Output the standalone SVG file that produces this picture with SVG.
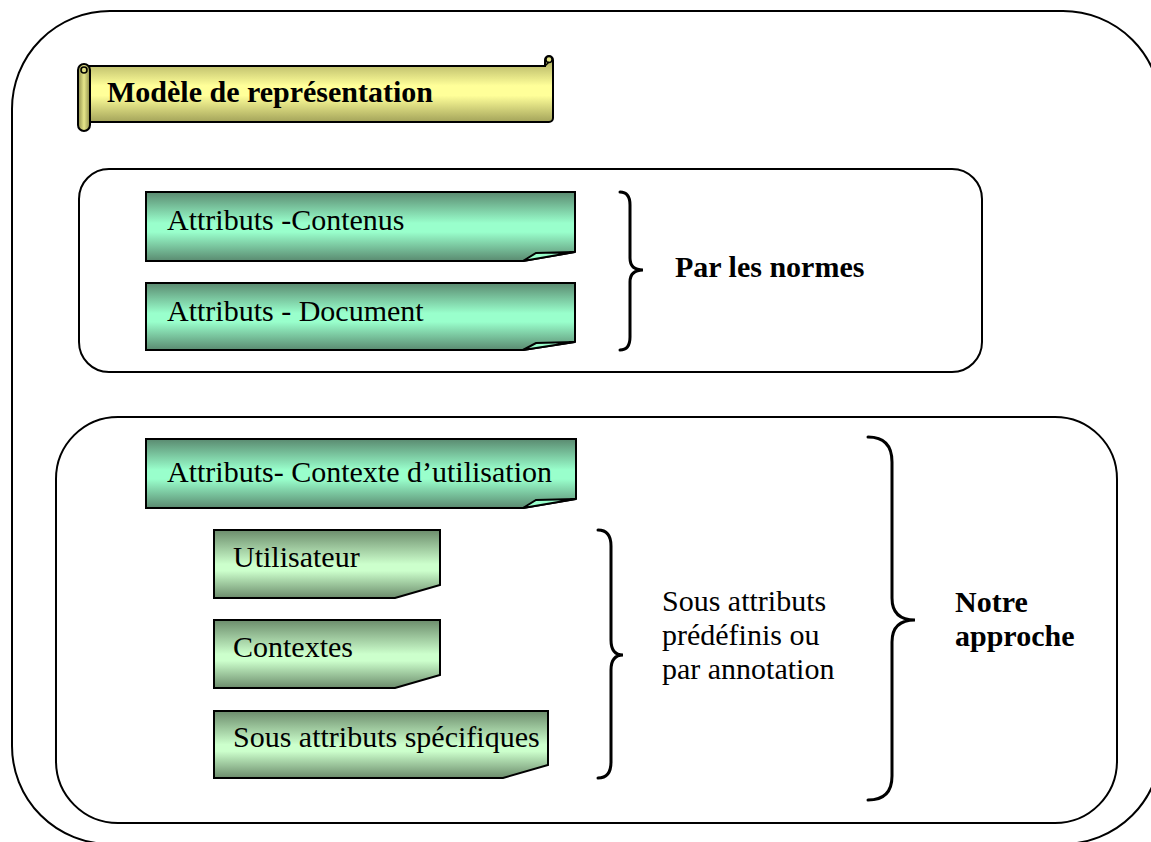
<svg xmlns="http://www.w3.org/2000/svg" width="1151" height="842" viewBox="0 0 1151 842">
<defs>
<linearGradient id="gMint" x1="0" y1="0" x2="0" y2="1">
<stop offset="0" stop-color="#5a8a70"/>
<stop offset="0.45" stop-color="#99ffcc"/>
<stop offset="0.58" stop-color="#99ffcc"/>
<stop offset="1" stop-color="#5a8a70"/>
</linearGradient>
<linearGradient id="gPale" x1="0" y1="0" x2="0" y2="1">
<stop offset="0" stop-color="#6c8c6c"/>
<stop offset="0.5" stop-color="#ccffcc"/>
<stop offset="0.6" stop-color="#ccffcc"/>
<stop offset="1" stop-color="#6c8c6c"/>
</linearGradient>
<linearGradient id="gYel" x1="0" y1="0" x2="0" y2="1">
<stop offset="0" stop-color="#a3a35a"/>
<stop offset="0.45" stop-color="#ffff99"/>
<stop offset="0.6" stop-color="#ffff99"/>
<stop offset="1" stop-color="#a3a35a"/>
</linearGradient>
<linearGradient id="gYelH" x1="0" y1="0" x2="1" y2="0">
<stop offset="0" stop-color="#8c8c4a"/>
<stop offset="0.5" stop-color="#e6e68a"/>
<stop offset="1" stop-color="#8c8c4a"/>
</linearGradient>
</defs>
<style>
.frame{fill:none;stroke:#000;stroke-width:2}
.box{stroke:#000;stroke-width:2;stroke-linejoin:miter}
.brace{fill:none;stroke:#000;stroke-width:3;stroke-linecap:round}
.t{font-family:"Liberation Serif","Times New Roman",serif;font-size:30px;fill:#000}
.b{font-weight:bold}
</style>

<g id="outer-frame">
<rect class="frame" x="12" y="11" width="1149" height="833" rx="98" ry="98"/>
</g>

<g id="title-banner">
<path d="M86,66 H545 V60 A4,4 0 0 1 553,60 V118 A4,4 0 0 1 549,122 H86 Z" fill="url(#gYel)" stroke="#000" stroke-width="2"/>
<circle cx="549" cy="59.5" r="3" fill="#e6e68a" stroke="#000" stroke-width="1.5"/>
<line x1="545" y1="66" x2="549" y2="62" stroke="#000" stroke-width="1.5"/>
<rect x="78" y="64" width="12" height="67" rx="6" ry="6" fill="url(#gYelH)" stroke="#000" stroke-width="2"/>
<circle cx="84" cy="70" r="3" fill="none" stroke="#000" stroke-width="1.5"/>
<text class="t b" x="107" y="102">Modèle de représentation</text>
</g>

<g id="group-normes">
<rect class="frame" x="79" y="169" width="903" height="203" rx="30" ry="30"/>
</g>

<g id="node-contenus">
<path class="box" fill="url(#gMint)" d="M146,192 H575 V252 L523,261 H146 Z"/>
<path class="box" fill="#99ffcc" stroke-width="1.5" d="M523,261 L536,253 L575,252 Z"/>
<text class="t" x="167" y="230">Attributs -Contenus</text>
</g>

<g id="node-document">
<path class="box" fill="url(#gMint)" d="M146,283 H575 V342 L523,350 H146 Z"/>
<path class="box" fill="#99ffcc" stroke-width="1.5" d="M523,350 L536,343 L575,342 Z"/>
<text class="t" x="167" y="321">Attributs - Document</text>
</g>

<g id="label-normes">
<text class="t b" x="675" y="277">Par les normes</text>
</g>

<g id="group-approche">
<rect class="frame" x="56" y="417" width="1061" height="406" rx="62" ry="62"/>
</g>

<g id="node-contexte-utilisation">
<path class="box" fill="url(#gMint)" d="M146,439 H576 V499 L523,508 H146 Z"/>
<path class="box" fill="#99ffcc" stroke-width="1.5" d="M523,508 L536,500 L576,499 Z"/>
<text class="t" x="167" y="482">Attributs- Contexte d’utilisation</text>
</g>

<g id="node-utilisateur">
<path class="box" fill="url(#gPale)" d="M214,530 H440 V585 L395,598 H214 Z"/>
<text class="t" x="233" y="567">Utilisateur</text>
</g>

<g id="node-contextes">
<path class="box" fill="url(#gPale)" d="M214,620 H440 V675 L395,688 H214 Z"/>
<text class="t" x="233" y="657">Contextes</text>
</g>

<g id="node-sous-attributs">
<path class="box" fill="url(#gPale)" d="M214,711 H548 V765 L503,778 H214 Z"/>
<text class="t" x="233" y="747">Sous attributs spécifiques</text>
</g>

<g id="label-sous-attributs">
<text class="t" x="662" y="611">Sous attributs</text>
<text class="t" x="662" y="645">prédéfinis ou</text>
<text class="t" x="662" y="679">par annotation</text>
</g>

<g id="label-approche">
<text class="t b" x="955" y="612">Notre</text>
<text class="t b" x="955" y="646">approche</text>
</g>

<g id="connectors">
<path class="brace" d="M620,192 Q630,192 630,205 V258 Q630,270 643,270 Q630,270 630,282 V337 Q630,350 620,350"/>
<path class="brace" d="M598,530 Q611,530 611,546 V640 Q611,655 623,655 Q611,655 611,670 V762 Q611,778 598,778"/>
<path class="brace" d="M868,437 Q892,437 892,462 V598 Q892,620 915,620 Q892,620 892,642 V776 Q892,800 868,800"/>
</g>
</svg>
